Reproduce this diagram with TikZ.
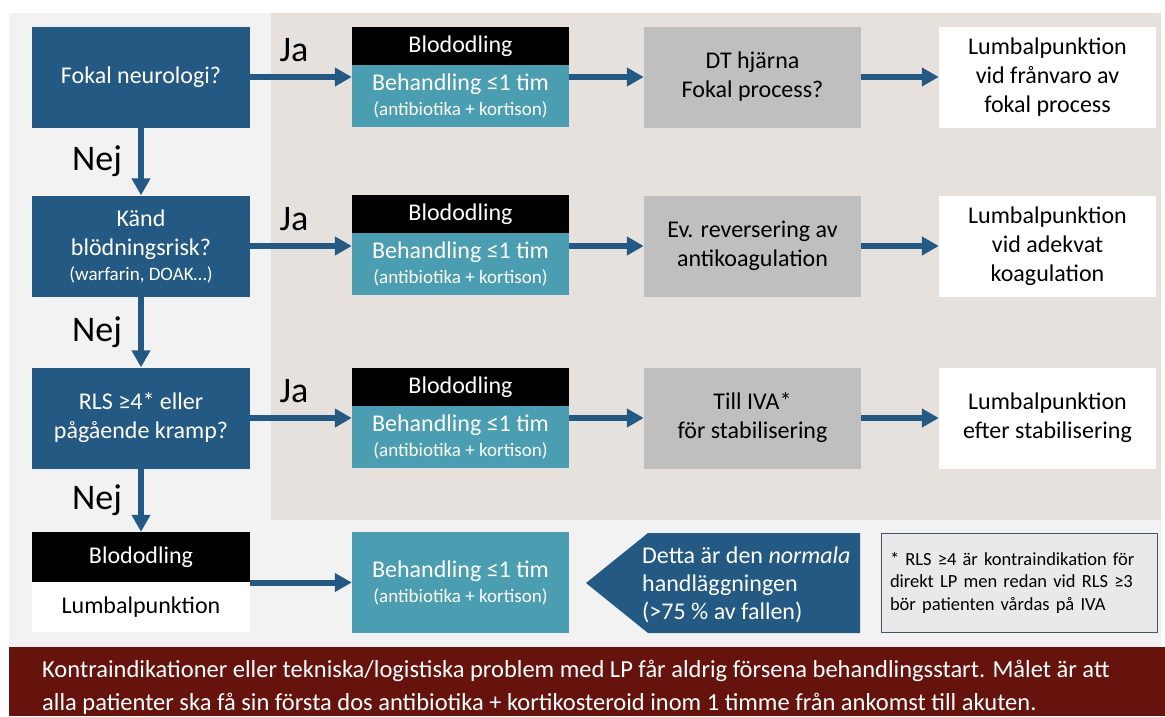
\documentclass[tikz,border=0pt]{standalone}
\usepackage{fontspec}
\setmainfont{Carlito}
\usetikzlibrary{positioning,arrows.meta}
\definecolor{qblue}{RGB}{36,89,132}
\definecolor{treatteal}{RGB}{75,158,177}
\definecolor{boxgray}{RGB}{191,191,191}
\definecolor{pagegray}{RGB}{242,242,242}
\definecolor{areabeige}{RGB}{231,225,222}
\definecolor{bannerred}{RGB}{102,19,14}
\definecolor{notegray}{RGB}{233,233,233}
\definecolor{noteedge}{RGB}{68,84,106}

\tikzset{
  qbox/.style={fill=qblue,text=white,minimum width=218pt,minimum height=101pt,align=center},
  bloodbox/.style={fill=black,text=white,minimum width=217pt,minimum height=38pt,inner sep=0pt},
  treatbox/.style={fill=treatteal,text=white,minimum width=217pt,minimum height=62pt,align=center,inner sep=0pt},
  graybox/.style={fill=boxgray,minimum width=217pt,minimum height=101pt,align=center},
  lpbox/.style={fill=white,minimum width=217pt,minimum height=101pt,align=center},
  flow/.style={draw=qblue,line width=6pt,-{Triangle[length=17pt,width=18pt]}},
  answer/.style={font=\fontsize{36}{40}\selectfont,inner sep=0pt},
  bannertxt/.style={anchor=base west,text=white,inner sep=0pt,font=\fontsize{24.5}{28}\selectfont}
}
\newcommand{\drugs}{{\fontsize{19}{22}\selectfont(antibiotika + kortison)}}

\begin{document}
\begin{tikzpicture}[x=1pt,y=-1pt,font=\fontsize{24}{29}\selectfont]
  \useasboundingbox (0,0) rectangle (1165,716);
  % bakgrund
  \fill[pagegray] (9,13) rectangle (1161,647);
  \fill[areabeige] (271,13) rectangle (1161,520);
  \fill[bannerred] (9,647) rectangle (1165,716);

  % frågor till vänster
  \node[qbox] (fokal) at (141,77) {Fokal neurologi?};
  \node[qbox] (bleed) at (141,246) {Känd\\blödningsrisk?\\[-4pt]{\fontsize{19}{22}\selectfont(warfarin, DOAK…)}};
  \node[qbox] (rls) at (141,418) {RLS ≥4* eller\\pågående kramp?};
  \node[bloodbox,minimum width=218pt,minimum height=50pt] (blod4) at (141,557) {Blododling};
  \node[lpbox,minimum width=218pt,minimum height=50pt] (lp4) [below=0pt of blod4] {Lumbalpunktion};

  % blododling + behandling
  \node[bloodbox] (blod1) at (460.5,46) {Blododling};
  \node[treatbox] (treat1) [below=0pt of blod1] {Behandling ≤1 tim\\[-4pt]\drugs};
  \node[bloodbox] (blod2) at (460.5,214) {Blododling};
  \node[treatbox] (treat2) [below=0pt of blod2] {Behandling ≤1 tim\\[-4pt]\drugs};
  \node[bloodbox] (blod3) at (460.5,387) {Blododling};
  \node[treatbox] (treat3) [below=0pt of blod3] {Behandling ≤1 tim\\[-4pt]\drugs};
  \node[treatbox,minimum height=101pt] (treat4) at (460.5,582.5) {Behandling ≤1 tim\\[-4pt]\drugs};

  % nästa steg
  \node[graybox] (ct) at (752.5,77) {DT hjärna\\Fokal process?};
  \node[graybox] (revers) at (752.5,246) {Ev. reversering av\\antikoagulation};
  \node[graybox] (iva) at (752.5,418) {Till IVA*\\för stabilisering};
  \node[lpbox] (lp1) at (1047.5,77) {Lumbalpunktion\\vid frånvaro av\\fokal process};
  \node[lpbox] (lp2) at (1047.5,246) {Lumbalpunktion\\vid adekvat\\koagulation};
  \node[lpbox] (lp3) at (1047.5,418) {Lumbalpunktion\\efter stabilisering};

  % pilar nedåt
  \draw[flow] (fokal) -- (bleed) node[midway,left=16pt,answer] {Nej};
  \draw[flow] (bleed) -- (rls) node[midway,left=16pt,answer] {Nej};
  \draw[flow] (rls) -- (blod4) node[midway,left=16pt,answer] {Nej};

  % pilar åt höger
  \draw[flow] (fokal.east) -- (fokal.east -| treat1.west) node[pos=0.43,above=12pt,answer] {Ja};
  \draw[flow] (bleed.east) -- (bleed.east -| treat2.west) node[pos=0.43,above=12pt,answer] {Ja};
  \draw[flow] (rls.east) -- (rls.east -| treat3.west) node[pos=0.43,above=12pt,answer] {Ja};
  \draw[flow] (ct.west -| treat1.east) -- (ct.west);
  \draw[flow] (revers.west -| treat2.east) -- (revers.west);
  \draw[flow] (iva.west -| treat3.east) -- (iva.west);
  \draw[flow] (ct) -- (lp1);
  \draw[flow] (revers) -- (lp2);
  \draw[flow] (iva) -- (lp3);
  \draw[flow] (treat4.west -| blod4.east) -- (treat4.west);

  % normala fallet
  \fill[qblue] (586,583) -- (648,533) -- (860,533) -- (860,633) -- (648,633) -- cycle;
  \node[anchor=west,text=white,align=left,inner sep=0pt,font=\fontsize{24}{28}\selectfont] (normal) at (642,585)
    {Detta är den \textit{normala}\\handläggningen\\(>75 \% av fallen)};

  % fotnot
  \node[fill=notegray,draw=noteedge,line width=1pt,text width=258pt,inner xsep=9pt,
        minimum height=99pt,align=left,font=\fontsize{18.5}{22.5}\selectfont] (note) at (1019,582.5)
    {* RLS ≥4 är kontraindikation för\\direkt LP men redan vid RLS ≥3\\bör patienten vårdas på IVA};

  % banner
  \node[bannertxt] (banner1) at (42,677)
    {Kontraindikationer eller tekniska/logistiska problem med LP får aldrig försena behandlingsstart. Målet är att};
  \node[bannertxt] (banner2) at (42,710)
    {alla patienter ska få sin första dos antibiotika + kortikosteroid inom 1 timme från ankomst till akuten.};
\end{tikzpicture}
\end{document}
